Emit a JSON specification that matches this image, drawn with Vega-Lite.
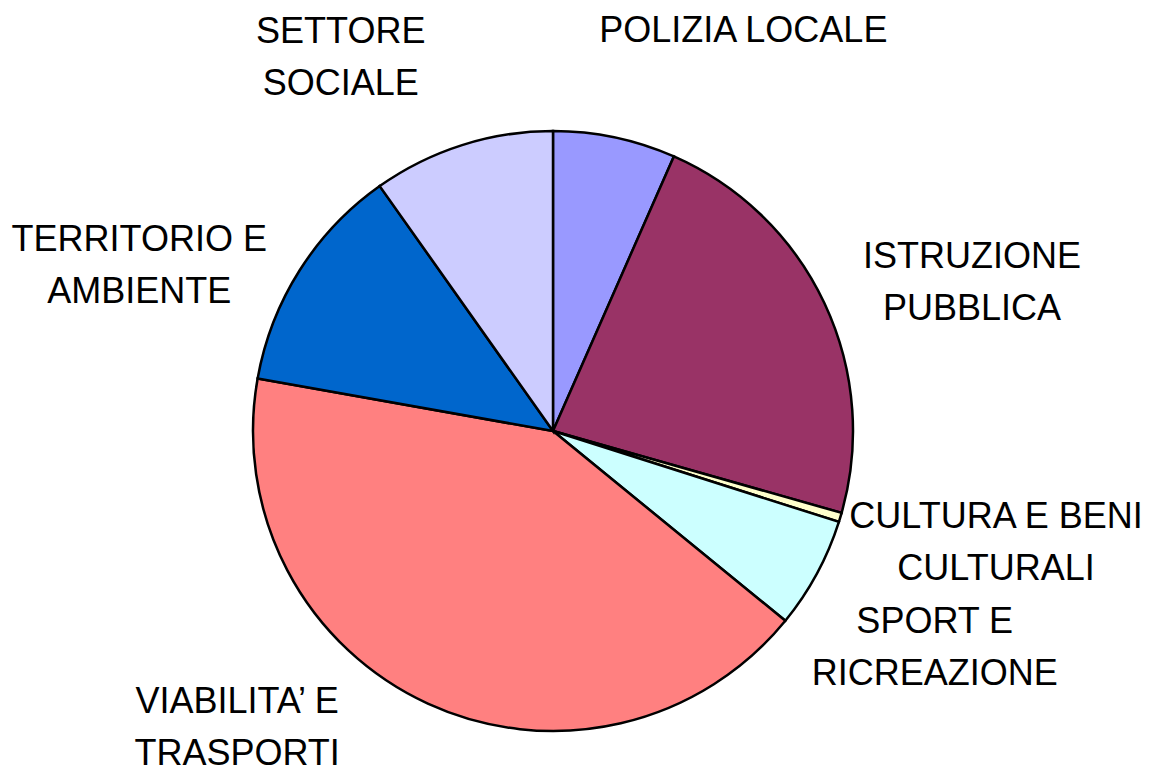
{
  "$schema": "https://vega.github.io/schema/vega-lite/v6.json",
  "width": 1106,
  "height": 690,
  "autosize": {"type": "none"},
  "padding": {"left": 0, "top": 86, "right": 49, "bottom": 0},
  "background": "white",
  "config": {"view": {"stroke": null}},
  "data": {
    "values": [
      {"k": 1, "cat": "POLIZIA LOCALE", "label": "POLIZIA LOCALE", "value": 6.6},
      {"k": 2, "cat": "ISTRUZIONE PUBBLICA", "label": "ISTRUZIONE\nPUBBLICA", "value": 22.8},
      {"k": 3, "cat": "CULTURA E BENI CULTURALI", "label": "CULTURA E BENI\nCULTURALI", "value": 0.5},
      {"k": 4, "cat": "SPORT E RICREAZIONE", "label": "SPORT E\nRICREAZIONE", "value": 6.0},
      {"k": 5, "cat": "VIABILITA’ E TRASPORTI", "label": "VIABILITA’ E\nTRASPORTI", "value": 41.9},
      {"k": 6, "cat": "TERRITORIO E AMBIENTE", "label": "TERRITORIO E\nAMBIENTE", "value": 12.4},
      {"k": 7, "cat": "SETTORE SOCIALE", "label": "SETTORE\nSOCIALE", "value": 9.8}
    ]
  },
  "encoding": {
    "theta": {"field": "value", "type": "quantitative", "stack": true},
    "order": {"field": "k", "type": "quantitative"}
  },
  "layer": [
    {
      "mark": {"type": "arc", "outerRadius": 300, "stroke": "black", "strokeWidth": 2.5},
      "encoding": {
        "color": {
          "field": "cat",
          "type": "nominal",
          "legend": null,
          "scale": {
            "domain": ["POLIZIA LOCALE", "ISTRUZIONE PUBBLICA", "CULTURA E BENI CULTURALI", "SPORT E RICREAZIONE", "VIABILITA’ E TRASPORTI", "TERRITORIO E AMBIENTE", "SETTORE SOCIALE"],
            "range": ["#9999FF", "#993366", "#FFFFCC", "#CCFFFF", "#FF8080", "#0066CC", "#CCCCFF"]
          }
        }
      }
    },
    {
      "mark": {
        "type": "text",
        "radius": 400,
        "font": "Liberation Sans",
        "fontSize": 36,
        "lineHeight": 52,
        "lineBreak": "\n",
        "align": "center",
        "baseline": "middle",
        "fill": "black",
        "dx": {"expr": "datum.k==1?108:datum.k==2?57:datum.k==3?60:datum.k==4?30:datum.k==5?-149:datum.k==6?-76:-91"},
        "dy": {"expr": "datum.k==1?-9:datum.k==2?-4:datum.k==3?-29:datum.k==4?1:datum.k==5?-93:datum.k==6?23:-18"}
      },
      "encoding": {
        "text": {"field": "label", "type": "nominal"}
      }
    }
  ]
}
